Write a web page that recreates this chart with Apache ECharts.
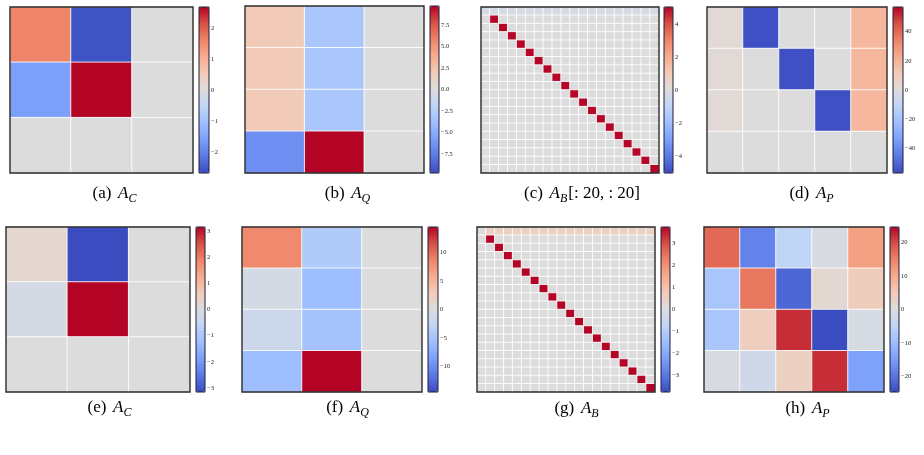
<!DOCTYPE html>
<html>
<head>
<meta charset="utf-8">
<script src="https://cdn.jsdelivr.net/npm/echarts@6/dist/echarts.min.js"></script>
<style>
  html, body { margin: 0; padding: 0; background: #fff; }
  #main { width: 924px; height: 455px; }
</style>
</head>
<body>
<div id="main"></div>
<script>
// coolwarm colour stops (0 .. 1)
const coolwarm = ['#3b4cc0', '#5a78e4', '#7b9ff9', '#9ebeff', '#c0d4f5', '#dddcdc',
                  '#f2cbb7', '#f7ac8e', '#ee8468', '#d65244', '#b40426'];

// ---- top row ----
// (a) A_C
const acTop = [
  [1.6, -2.6, 0],
  [-1.6, 2.68, 0],
  [0, 0, 0]
];
const acTopRange = 2.68;
const acTopTicks = [-2, -1, 0, 1, 2];

// (b) A_Q
const aqTop = [
  [1.9, -3.2, 0],
  [1.9, -3.2, 0],
  [1.9, -3.2, 0],
  [-6.6, 9.7, 0]
];
const aqTopRange = 9.7;
const aqTopTicks = [-7.5, -5, -2.5, 0, 2.5, 5, 7.5];

// (c) A_B[:20, :20]  -- row 0 and the diagonal, every other cell is 0
const abTopRow0 = [-0.25, -0.25, -0.25, -0.25, -0.25, -0.25, -0.25, -0.25, -0.25, -0.25,
                   -0.25, -0.25, -0.25, -0.25, -0.25, -0.25, -0.25, -0.25, -0.25, -0.25];
const abTopDiag = [5, 5, 5, 5, 5, 5, 5, 5, 5, 5, 5, 5, 5, 5, 5, 5, 5, 5, 5]; // rows 1..19
const abTopRange = 5.03;
const abTopTicks = [-4, -2, 0, 2, 4];

// (d) A_P
const apTop = [
  [2.3, -56, 0, 0, 18.4],
  [2.3, 0, -56, 0, 18.4],
  [2.3, 0, 0, -56, 18.4],
  [0, 0, 0, 0, 0]
];
const apTopRange = 57;
const apTopTicks = [-40, -20, 0, 20, 40];

// ---- bottom row ----
// (e) A_C
const acBot = [
  [0.2, -3.15, 0],
  [-0.2, 3.15, 0],
  [0, 0, 0]
];
const acBotRange = 3.15;
const acBotTicks = [-3, -2, -1, 0, 1, 2, 3];

// (f) A_Q
const aqBot = [
  [8.2, -4.2, 0],
  [-0.9, -5.8, 0],
  [-1.7, -5.2, 0],
  [-5.8, 14.4, 0]
];
const aqBotRange = 14.4;
const aqBotTicks = [-10, -5, 0, 5, 10];

// (g) A_B  -- row 0 and the diagonal, every other cell is 0
const abBotRow0 = [0, 0.5, 0.5, 0.5, 0.5, 0.5, 0.5, 0.5, 0.5, 0.5,
                   0.5, 0.5, 0.5, 0.5, 0.5, 0.5, 0.5, 0.5, 0.5, 0.5];
const abBotDiag = [3.74, 3.74, 3.74, 3.74, 3.74, 3.74, 3.74, 3.74, 3.74, 3.74,
                   3.74, 3.74, 3.74, 3.74, 3.74, 3.74, 3.74, 3.74, 3.74]; // rows 1..19
const abBotRange = 3.74;
const abBotTicks = [-3, -2, -1, 0, 1, 2, 3];

// (h) A_P
const apBot = [
  [17.4, -18.3, -4.9, -1, 11.3],
  [-8.2, 16, -21.7, 1.5, 4.3],
  [-8, 4, 22, -24.6, -1.2],
  [-1, -2.4, 3.5, 22, -14.3]
];
const apBotRange = 24.6;
const apBotTicks = [-20, -10, 0, 10, 20];

// build the two sparse 20x20 matrices
function sparseMatrix(row0, diag) {
  const m = [row0.slice()];
  diag.forEach((v, k) => {
    const r = new Array(row0.length).fill(0);
    r[k + 1] = v;
    m.push(r);
  });
  return m;
}
const abTop = sparseMatrix(abTopRow0, abTopDiag);
const abBot = sparseMatrix(abBotRow0, abBotDiag);

const fmtInt = v => String(v).replace('-', '\u2212');
const fmt1 = v => v.toFixed(1).replace('-', '\u2212');

// label, subscript, suffix, matrix, range, ticks, formatter
const panels = [
  ['(a)', 'C', '', acTop, acTopRange, acTopTicks, fmtInt],
  ['(b)', 'Q', '', aqTop, aqTopRange, aqTopTicks, fmt1],
  ['(c)', 'B', '[: 20, : 20]', abTop, abTopRange, abTopTicks, fmtInt],
  ['(d)', 'P', '', apTop, apTopRange, apTopTicks, fmtInt],
  ['(e)', 'C', '', acBot, acBotRange, acBotTicks, fmtInt],
  ['(f)', 'Q', '', aqBot, aqBotRange, aqBotTicks, fmtInt],
  ['(g)', 'B', '', abBot, abBotRange, abBotTicks, fmtInt],
  ['(h)', 'P', '', apBot, apBotRange, apBotTicks, fmtInt]
];

// layout: heatmap box [l, t, r, b], colorbar [l, r], caption centre x, caption y
const boxes = [
  [10, 7, 193, 173, 199, 209, 115, 195],
  [245, 6, 424, 173, 430, 439, 348, 195],
  [481, 7, 659, 173, 664, 673, 582, 195],
  [707, 7, 887, 173, 893, 903, 812, 195],
  [6, 227, 190, 392, 196, 205, 110, 409],
  [242, 227, 422, 392, 428, 438, 348, 409],
  [477, 227, 655, 392, 661, 670, 577, 410],
  [704, 227, 884, 392, 890, 899, 808, 410]
];

const grid = [], xAxis = [], yAxis = [], series = [], visualMap = [], graphic = [];

panels.forEach((p, i) => {
  const [lab, sub, suffix, mat, range, ticks, fmt] = p;
  const [l, t, r, b, cl, cr, cx, cy] = boxes[i];

  // heatmap grid
  grid.push({ left: l, top: t, width: r - l, height: b - t });
  xAxis.push({ type: 'category', gridIndex: 2 * i, data: mat[0].map((_, c) => c), show: false });
  yAxis.push({ type: 'category', gridIndex: 2 * i, data: mat.map((_, rr) => rr), inverse: true, show: false });

  // colorbar grid (only for ticks/labels)
  grid.push({ left: cl, top: t, width: cr - cl, height: b - t });
  xAxis.push({ type: 'value', gridIndex: 2 * i + 1, show: false });
  yAxis.push({
    type: 'value', gridIndex: 2 * i + 1, position: 'right',
    min: -range, max: range,
    axisLine: { show: false },
    splitLine: { show: false },
    axisTick: { show: true, customValues: ticks, length: 2, lineStyle: { color: '#222', width: 0.8 } },
    axisLabel: {
      customValues: ticks, formatter: fmt, margin: 2,
      fontFamily: 'Liberation Serif', fontSize: 6.5, color: '#222'
    }
  });

  const data = [];
  mat.forEach((row, rr) => row.forEach((v, c) => data.push([c, rr, v])));
  series.push({
    type: 'heatmap', xAxisIndex: 2 * i, yAxisIndex: 2 * i, data: data,
    itemStyle: { borderColor: 'rgba(255,255,255,0.85)', borderWidth: 1 },
    emphasis: { disabled: true }
  });

  visualMap.push({
    type: 'continuous', seriesIndex: i, min: -range, max: range,
    inRange: { color: coolwarm },
    calculable: false, hoverLink: false, padding: 0,
    left: cl, top: t, itemWidth: cr - cl, itemHeight: b - t
  });

  // frames
  graphic.push({
    type: 'rect', z: 100, silent: true,
    shape: { x: l, y: t, width: r - l, height: b - t },
    style: { fill: 'none', stroke: '#2a2a2a', lineWidth: 1.4 }
  });
  graphic.push({
    type: 'rect', z: 100, silent: true,
    shape: { x: cl, y: t, width: cr - cl, height: b - t },
    style: { fill: 'none', stroke: '#1c1c3a', lineWidth: 1 }
  });

  // caption
  graphic.push({
    type: 'text', z: 100, silent: true, x: cx, y: cy,
    style: {
      text: '{n|' + lab + '}  {i|A}{s|' + sub + '}' + (suffix ? '{n|' + suffix + '}' : ''),
      align: 'center', verticalAlign: 'middle',
      rich: {
        n: { fontFamily: 'Liberation Serif', fontSize: 17, color: '#111', lineHeight: 19, verticalAlign: 'top' },
        i: { fontFamily: 'Liberation Serif', fontStyle: 'italic', fontSize: 17, color: '#111', lineHeight: 19, verticalAlign: 'top' },
        s: { fontFamily: 'Liberation Serif', fontStyle: 'italic', fontSize: 12, color: '#111', lineHeight: 12, padding: [10, 1, 0, 0], verticalAlign: 'bottom' }
      }
    }
  });
});

const chart = echarts.init(document.getElementById('main'));
chart.setOption({
  animation: false,
  backgroundColor: '#fff',
  grid: grid,
  xAxis: xAxis,
  yAxis: yAxis,
  visualMap: visualMap,
  series: series,
  graphic: graphic
});
</script>
</body>
</html>
